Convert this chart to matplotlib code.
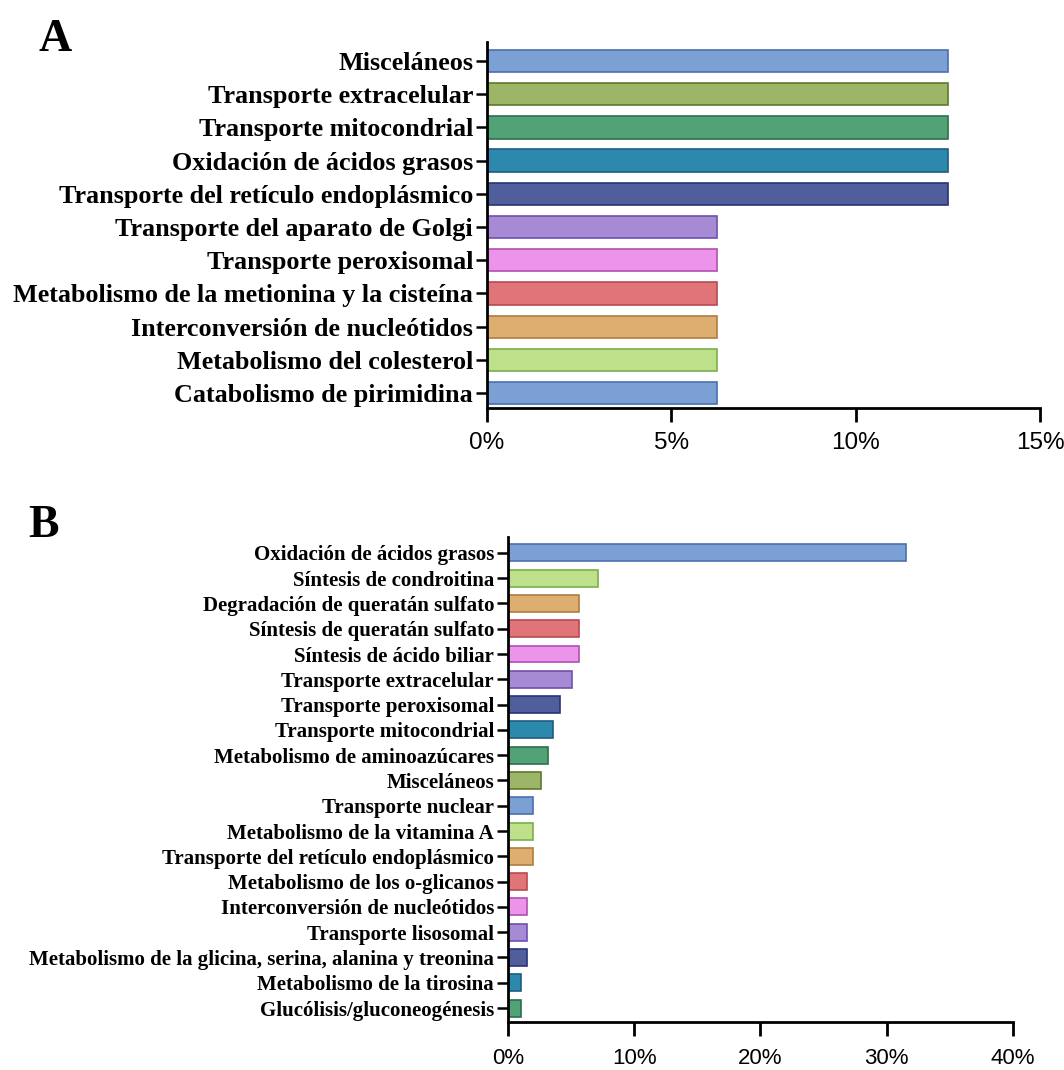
import matplotlib.pyplot as plt
from matplotlib.ticker import FuncFormatter

# colour cycle used by both panels
palette = ['#7BA0D4', '#BEE08A', '#DEAD70', '#E07478', '#EB94EA',
           '#A68AD4', '#515E9C', '#2C88AD', '#52A278', '#9CB566']
edges = ['#4A6FAE', '#7DAE4C', '#B07D3E', '#B84A50', '#B050B0',
         '#7050B0', '#2A347A', '#1C5E80', '#2C7048', '#5E7A2C']

# panel A, listed bottom to top
labels_a = ['Catabolismo de pirimidina', 'Metabolismo del colesterol',
            'Interconversión de nucleótidos',
            'Metabolismo de la metionina y la cisteína',
            'Transporte peroxisomal', 'Transporte del aparato de Golgi',
            'Transporte del retículo endoplásmico',
            'Oxidación de ácidos grasos', 'Transporte mitocondrial',
            'Transporte extracelular', 'Misceláneos']
values_a = [6.25, 6.25, 6.25, 6.25, 6.25, 6.25, 12.5, 12.5, 12.5, 12.5, 12.5]

# panel B, listed top to bottom
labels_b = ['Oxidación de ácidos grasos', 'Síntesis de condroitina',
            'Degradación de queratán sulfato', 'Síntesis de queratán sulfato',
            'Síntesis de ácido biliar', 'Transporte extracelular',
            'Transporte peroxisomal', 'Transporte mitocondrial',
            'Metabolismo de aminoazúcares', 'Misceláneos',
            'Transporte nuclear', 'Metabolismo de la vitamina A',
            'Transporte del retículo endoplásmico',
            'Metabolismo de los o-glicanos', 'Interconversión de nucleótidos',
            'Transporte lisosomal',
            'Metabolismo de la glicina, serina, alanina y treonina',
            'Metabolismo de la tirosina', 'Glucólisis/gluconeogénesis']
values_b = [31.5, 7.1, 5.6, 5.6, 5.6, 5.1, 4.1, 3.6, 3.2, 2.6,
            2.0, 2.0, 2.0, 1.5, 1.5, 1.5, 1.5, 1.0, 1.0]

pct = FuncFormatter(lambda v, p: f'{v:.0f}%')
serif = 'Liberation Serif'
sans = 'Liberation Sans'


def style(ax, xsize, xpad):
  for s in ['top', 'right']:
    ax.spines[s].set_visible(False)
  for s in ['left', 'bottom']:
    ax.spines[s].set_linewidth(2)
  ax.xaxis.set_major_formatter(pct)
  ax.tick_params(axis='x', length=10, width=2, labelsize=xsize, pad=xpad)
  ax.tick_params(axis='y', length=8, width=1.8, pad=2)
  for t in ax.get_xticklabels():
    t.set_fontfamily(sans)


fig = plt.figure(figsize=(10.64, 10.70), dpi=100)

# ---- panel A
ax1 = fig.add_axes([0.4577, 0.6187, 0.5197, 0.342])
n = len(values_a)
cols = [palette[i % 10] for i in range(n)]
ecs = [edges[i % 10] for i in range(n)]
ax1.barh(range(n), values_a, height=0.67, color=cols, edgecolor=ecs, linewidth=1.2)
ax1.set_xlim(0, 15)
ax1.set_xticks([0, 5, 10, 15])
ax1.set_ylim(-0.45, n - 1 + 0.57)
ax1.set_yticks(range(n))
ax1.set_yticklabels(labels_a, fontfamily=serif, fontweight='bold', fontsize=18.8)
style(ax1, 17.5, 7)
fig.text(0.036, 0.952, 'A', fontfamily=serif, fontweight='bold', fontsize=33)

# ---- panel B
ax2 = fig.add_axes([0.4774, 0.0449, 0.4746, 0.4533])
m = len(values_b)
ypos = list(range(m - 1, -1, -1))
cols = [palette[i % 10] for i in range(m)]
ecs = [edges[i % 10] for i in range(m)]
ax2.barh(ypos, values_b, height=0.67, color=cols, edgecolor=ecs, linewidth=1.2)
ax2.set_xlim(0, 40)
ax2.set_xticks([0, 10, 20, 30, 40])
ax2.set_ylim(-0.55, m - 1 + 0.63)
ax2.set_yticks(ypos)
ax2.set_yticklabels(labels_b, fontfamily=serif, fontweight='bold', fontsize=15)
style(ax2, 16, 9)
fig.text(0.027, 0.498, 'B', fontfamily=serif, fontweight='bold', fontsize=33)

fig.savefig('out.png', dpi=100)
plt.close(fig)
